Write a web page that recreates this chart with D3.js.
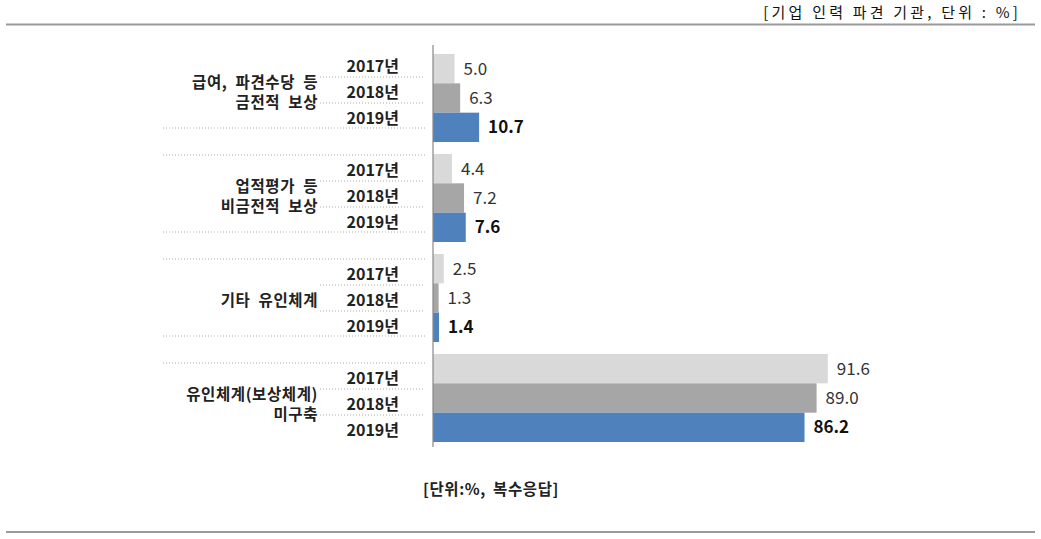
<!DOCTYPE html>
<html><head><meta charset="utf-8">
<script src="https://cdn.jsdelivr.net/npm/d3@7/dist/d3.min.js"></script>
<style>body{margin:0;background:#fff}svg{display:block}</style>
</head><body><svg id="c" width="1041" height="539"></svg>
<script>
const categories = [["급여, 파견수당 등","금전적 보상"],["업적평가 등","비금전적 보상"],["기타 유인체계"],["유인체계(보상체계)","미구축"]];
const years = ["2017년","2018년","2019년"];
const v2017 = [5.0, 4.4, 2.5, 91.6];
const v2018 = [6.3, 7.2, 1.3, 89.0];
const v2019 = [10.7, 7.6, 1.4, 86.2];
const colors = ["#d9d9d9","#a6a6a6","#4f81bd"];
const titleText = "[기업 인력 파견 기관, 단위 : %]";
const noteText = "[단위:%, 복수응답]";

const series = [v2017, v2018, v2019];
const svg = d3.select("#c");
const font = "'Noto Sans CJK KR', 'Malgun Gothic', sans-serif";

// frame lines
svg.append("line").attr("x1",6).attr("x2",1035).attr("y1",24.5).attr("y2",24.5).attr("stroke","#999").attr("stroke-width",2);
svg.append("line").attr("x1",6).attr("x2",1035).attr("y1",532).attr("y2",532).attr("stroke","#999").attr("stroke-width",2);
svg.append("text").attr("x",1021).attr("y",18).attr("text-anchor","end").attr("font-family",font)
  .attr("font-size",15).attr("letter-spacing","3.2px").attr("fill","#111").text(titleText);

const x = d3.scaleLinear().domain([0,100]).range([433, 864]);
const idx = d3.range(categories.length);
const yG = d3.scaleBand().domain(idx).range([48,448]).paddingInner(0.12).paddingOuter(0.06);
const yS = d3.scaleBand().domain(d3.range(3)).range([0, yG.bandwidth()]);
const yL = d3.scaleBand().domain(idx).range([51, 467]);

// bars
idx.forEach(i => {
  series.forEach((s, j) => {
    const y0 = yG(i) + yS(j);
    svg.append("rect").attr("x", x(0)).attr("y", y0).attr("width", x(s[i]) - x(0))
      .attr("height", yS.bandwidth()).attr("fill", colors[j]);
    svg.append("text").attr("x", x(s[i]) + 9).attr("y", y0 + yS.bandwidth()/2 + 6)
      .attr("font-family", font).attr("font-size", 17)
      .attr("font-weight", j === 2 ? "bold" : "normal")
      .attr("fill", j === 2 ? "#111" : "#333").text(s[i].toFixed(1));
  });
});

// axis line
svg.append("line").attr("x1",x(0)).attr("x2",x(0)).attr("y1",45).attr("y2",447).attr("stroke","#888").attr("stroke-width",1.2);

// dotted separators and labels
const dot = (x1,x2,y) => svg.append("line").attr("x1",x1).attr("x2",x2).attr("y1",y).attr("y2",y)
  .attr("stroke","#aaa").attr("stroke-width",1).attr("stroke-dasharray","1,2");
idx.forEach(i => {
  const t = yL(i);
  if (i > 0) dot(163, 425, t);
  dot(320, 425, t + 26);
  dot(320, 425, t + 52);
  if (i < categories.length - 1) dot(163, 425, t + 77);
  years.forEach((yr, j) => {
    svg.append("text").attr("x", 399).attr("y", t + 15 + j*26.3 + 5.5)
      .attr("text-anchor","end").attr("font-family",font).attr("font-size",16)
      .attr("font-weight","bold").attr("fill","#222").text(yr);
  });
  const lines = categories[i];
  lines.forEach((ln, k) => {
    const cy = t + 41 + (k - (lines.length-1)/2) * 20;
    svg.append("text").attr("x", 318).attr("y", cy + 5.5).attr("text-anchor","end")
      .attr("font-family",font).attr("font-size",15.5).attr("font-weight","bold")
      .attr("letter-spacing","0.6px").attr("word-spacing","4px")
      .attr("fill","#222").text(ln);
  });
});

svg.append("text").attr("x",491).attr("y",495).attr("text-anchor","middle").attr("font-family",font)
  .attr("font-size",15.5).attr("font-weight","bold").attr("letter-spacing","0.6px").attr("word-spacing","3px")
  .attr("fill","#222").text(noteText);
</script>
</body></html>
